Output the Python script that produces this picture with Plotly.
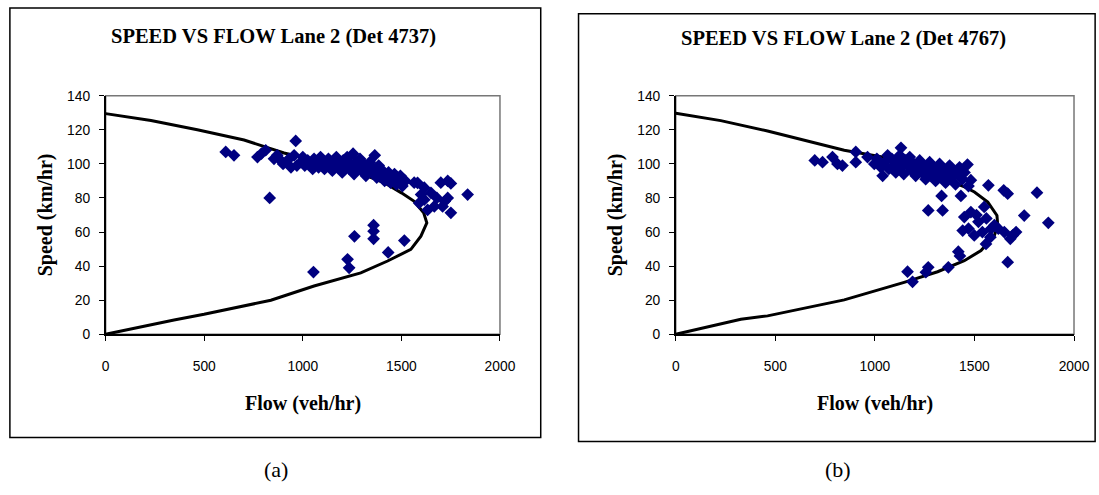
import plotly.graph_objects as go

W, H = 1118, 495

# ---------------- data: chart (a) Det 4737 ----------------
curve_a_flow = [0, 230, 465, 702, 905, 1100, 1280, 1420, 1500, 1565, 1613, 1629, 1599, 1548, 1430, 1294, 1057, 838, 499, 347, 0]
curve_a_speed = [129.5, 125.5, 120, 114, 106.4, 101, 95, 88.5, 83, 78, 71.3, 65.4, 57.6, 49.8, 43, 36, 28.3, 20, 11.7, 8.4, 0]

obs_a_flow = [609, 651, 770, 790, 812, 832, 854, 870, 888, 900, 930, 940, 956, 964, 970, 990,
              1000, 1010, 1025, 1040, 1050, 1057, 1070, 1080, 1090, 1100, 1110, 1120, 1130, 1140,
              1150, 1160, 1170, 1180, 1190, 1200, 1205, 1215, 1225, 1235, 1245, 1255, 1260, 1270,
              1280, 1290, 1300, 1310, 1320, 1330, 1340, 1350, 1360, 1365, 1375, 1385, 1395, 1405,
              1415, 1425, 1435, 1445, 1455, 1465, 1475, 1485, 1495, 1505, 1520,
              1565, 1582, 1616, 1650, 1616, 1633, 1667, 1700, 1709, 1735, 1735, 1751, 1836, 1600,
              1590, 1680, 1720, 1751,
              1054, 1227, 1235, 1262, 1359, 1359, 1359, 1433, 1515]
obs_a_speed = [107, 105, 104, 106, 108, 80, 103, 105, 102, 100, 103, 98, 105, 113.5, 99, 101,
               104, 99, 102, 100, 97, 103, 100, 98, 104, 101, 97, 100, 103, 99,
               96, 101, 104, 98, 100, 95, 102, 99, 104, 97, 100, 106, 94, 101,
               98, 103, 96, 100, 93, 98, 101, 95, 97, 105, 92, 99, 94, 96,
               90, 93, 95, 89, 92, 94, 88, 91, 93, 87, 90,
               89, 88.9, 86, 83, 79, 73, 75, 89, 75, 90, 80, 71.3, 82, 82,
               77, 80, 78, 88.5,
               36.5, 44, 39, 57.5, 64, 60.5, 56, 48, 55]

# ---------------- data: chart (b) Det 4767 ----------------
curve_b_flow = [0, 226, 461, 678, 846, 1030, 1200, 1350, 1450, 1500, 1567, 1613, 1617, 1600, 1533, 1449, 1315, 1147, 980, 846, 461, 327, 0]
curve_b_speed = [129.7, 125.4, 119.3, 113, 108, 104.2, 98, 91, 86.5, 83.5, 77.6, 69.7, 63.9, 58, 49.1, 43.2, 36.7, 30.5, 24.6, 20.2, 10.8, 8.8, 0]

obs_b_flow = [698, 737, 787, 812, 837, 904, 904, 963, 997, 1039, 1064, 1131,
              1010, 1030, 1050, 1070, 1085, 1095, 1105, 1115, 1125, 1135, 1145, 1155, 1165, 1175,
              1185, 1195, 1205, 1215, 1225, 1235, 1245, 1255, 1265, 1275, 1285, 1295, 1305, 1315,
              1325, 1335, 1345, 1355, 1365, 1375, 1385, 1395, 1405, 1415, 1425, 1440, 1450, 1465,
              1482, 1470,
              1570, 1647, 1667, 1814, 1335, 1432, 1268, 1340, 1750, 1871,
              1449, 1482, 1549, 1441, 1499, 1558, 1583, 1650, 1692, 1709, 1667, 1600, 1520, 1560,
              1620, 1540, 1580, 1470, 1510, 1680,
              1419, 1427, 1369, 1268, 1256, 1164, 1189]
obs_b_speed = [102, 101, 104, 100, 99, 107, 101, 104, 100, 93, 105, 109.4,
               103, 98, 101, 97, 103, 99, 95, 101, 105, 98, 94, 102, 99, 104,
               96, 100, 93, 98, 102, 95, 99, 91, 97, 101, 94, 98, 90, 96,
               100, 93, 97, 89, 95, 99, 92, 96, 88, 94, 98, 91, 95, 99.6,
               90.4, 87,
               87.4, 84.5, 82.5, 83.1, 81.2, 81.2, 72.7, 72.7, 69.7, 65.4,
               68.8, 71.7, 74.7, 60.9, 58, 53, 61.9, 60, 58, 60, 42.3, 64, 66, 68,
               62, 60, 57, 62, 70, 56,
               48.5, 46, 39.3, 39.3, 36.4, 36.7, 30.8]

titles = ["SPEED VS FLOW Lane 2 (Det 4737)", "SPEED VS FLOW Lane 2 (Det 4767)"]
captions = ["(a)", "(b)"]
x_ticks = [0, 500, 1000, 1500, 2000]
y_ticks = [0, 20, 40, 60, 80, 100, 120, 140]

NAVY = "#000080"
SERIF = "Liberation Serif"
SANS = "Liberation Sans"

def px(x):
    return x / W

def py(y):
    return 1 - y / H

fig = go.Figure()

panels = [
    dict(cf=curve_a_flow, cs=curve_a_speed, of=obs_a_flow, os=obs_a_speed, xa="x", ya="y"),
    dict(cf=curve_b_flow, cs=curve_b_speed, of=obs_b_flow, os=obs_b_speed, xa="x2", ya="y2"),
]
for p in panels:
    fig.add_trace(go.Scatter(x=p["cf"], y=p["cs"], mode="lines",
                             line=dict(color="black", width=3),
                             xaxis=p["xa"], yaxis=p["ya"], showlegend=False, hoverinfo="skip"))
    fig.add_trace(go.Scatter(x=p["of"], y=p["os"], mode="markers",
                             marker=dict(symbol="diamond", size=9.8, color=NAVY, line=dict(width=0)),
                             xaxis=p["xa"], yaxis=p["ya"], showlegend=False))

axis_common = dict(showline=True, linecolor="black", linewidth=1.5, ticks="outside", ticklen=5,
                   tickcolor="black", tickwidth=1.2, showgrid=False, zeroline=False,
                   tickfont=dict(family=SANS, size=13.8, color="black"))

plot_y = [py(337.5), py(91.5)]
fig.update_layout(
    width=W, height=H, margin=dict(l=0, r=0, t=0, b=0),
    paper_bgcolor="white", plot_bgcolor="white",
    xaxis=dict(domain=[px(103.5), px(505)], range=[0, 2000], tickvals=x_ticks, anchor="y",
               ticklabelstandoff=13, **axis_common),
    yaxis=dict(domain=plot_y, range=[0, 140], tickvals=y_ticks, anchor="x",
               ticklabelstandoff=6, **axis_common),
    xaxis2=dict(domain=[px(684), px(1089.5)], range=[0, 2000], tickvals=x_ticks, anchor="y2",
                ticklabelstandoff=13, **axis_common),
    yaxis2=dict(domain=plot_y, range=[0, 140], tickvals=y_ticks, anchor="x2",
                ticklabelstandoff=6, **axis_common),
)

shapes = []
# outer chart boxes
shapes.append(dict(type="rect", xref="paper", yref="paper", x0=px(6), x1=px(546.5), y0=py(444), y1=py(1),
                   line=dict(color="black", width=1.5), fillcolor="rgba(0,0,0,0)", layer="below"))
shapes.append(dict(type="rect", xref="paper", yref="paper", x0=px(585), x1=px(1111), y0=py(448), y1=py(7),
                   line=dict(color="black", width=1.5), fillcolor="rgba(0,0,0,0)", layer="below"))
# plot-area frames
for xr, yr in (("x domain", "y domain"), ("x2 domain", "y2 domain")):
    shapes.append(dict(type="rect", xref=xr, yref=yr, x0=0, x1=1, y0=0, y1=1,
                       line=dict(color="#777777", width=1.5), layer="below"))
fig.update_layout(shapes=shapes)

ann = []
# (title x, title y, flow-label x, flow-label y, speed-label x, caption x)
centers = [(274.5, 30, 304, 409, 42.5, 276.5), (855, 33, 886.5, 409, 623, 849)]
for i, (tx, ty, fx, fy, sx, cx) in enumerate(centers):
    ann.append(dict(text="<b>" + titles[i] + "</b>", x=px(tx), y=py(ty), xref="paper", yref="paper",
                    showarrow=False, font=dict(family=SERIF, size=20.5, color="black"),
                    xanchor="center", yanchor="middle"))
    ann.append(dict(text="<b>Flow (veh/hr)</b>", x=px(fx), y=py(fy), xref="paper", yref="paper",
                    showarrow=False, font=dict(family=SERIF, size=20, color="black"),
                    xanchor="center", yanchor="middle"))
    ann.append(dict(text="<b>Speed (km/hr)</b>", x=px(sx), y=py(214), xref="paper", yref="paper",
                    showarrow=False, textangle=-90, font=dict(family=SERIF, size=20, color="black"),
                    xanchor="center", yanchor="middle"))
    ann.append(dict(text=captions[i], x=px(cx), y=py(477), xref="paper", yref="paper",
                    showarrow=False, font=dict(family=SERIF, size=22, color="black"),
                    xanchor="center", yanchor="middle"))
fig.update_layout(annotations=ann)

fig.write_html("out.html")
